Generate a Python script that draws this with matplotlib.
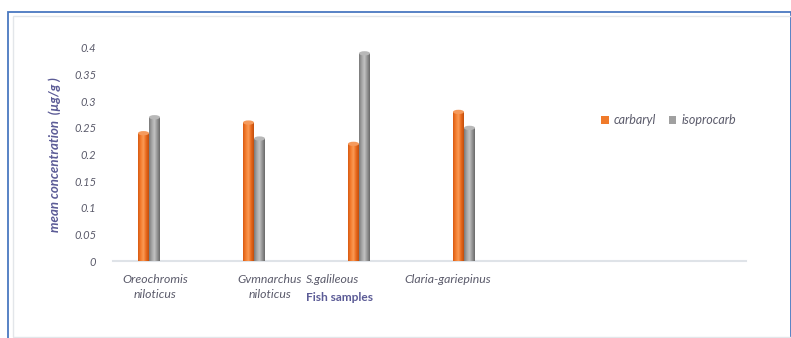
import numpy as np
import matplotlib.pyplot as plt
from matplotlib.patches import Rectangle, Ellipse
from matplotlib.colors import LinearSegmentedColormap

plt.rcParams['font.family'] = ['Lato', 'DejaVu Sans']

# mean concentrations per fish species (µg/g)
species = ['Oreochromis\nniloticus', 'Gvmnarchus\nniloticus', 'S.galileous', 'Claria-gariepinus']
carbaryl = [0.24, 0.26, 0.22, 0.28]
isoprocarb = [0.27, 0.23, 0.39, 0.25]
yticks = [0, 0.05, 0.1, 0.15, 0.2, 0.25, 0.3, 0.35, 0.4]
ytick_labels = ['0', '0.05', '0.1', '0.15', '0.2', '0.25', '0.3', '0.35', '0.4']

txt = '#5b5b6b'
purple = '#5b5b96'

fig = plt.figure(figsize=(7.91, 3.38), dpi=100)

# outer frame: blue top/left edge, light inner border
fig.add_artist(Rectangle((8/791, -0.01), 0.99, (338-12)/338 + 0.01, transform=fig.transFigure,
                         fill=False, ec='#4a78c0', lw=1.3))
fig.add_artist(Rectangle((13/791, 1/338), 0.99, (338-17)/338, transform=fig.transFigure,
                         fill=False, ec='#e3e6ea', lw=1.0))

ax = fig.add_axes([113/791, (338-261)/338, (746-113)/791, (261-48)/338])

x = np.arange(len(species))
w = 11/105

orange_cm = LinearSegmentedColormap.from_list('o', ['#d85a12', '#f47d2e', '#fa9a55', '#e8681c', '#c24f0c'])
gray_cm = LinearSegmentedColormap.from_list('g', ['#7a7a7a', '#a5a5a5', '#c3c3c3', '#959595', '#6a6a6a'])

b1 = ax.bar(x - w/2, carbaryl, w, color='#f07a2a', label='carbaryl', zorder=2)
b2 = ax.bar(x + w/2, isoprocarb, w, color='#a0a0a0', label='isoprocarb', zorder=2)

# shade each bar like a cylinder, with an elliptical cap on top
grad = np.linspace(0, 1, 64).reshape(1, -1)
for bars, cm, cap in ((b1, orange_cm, '#f59a5c'), (b2, gray_cm, '#b8b8b8')):
    for r in bars:
        x0, h, bw = r.get_x(), r.get_height(), r.get_width()
        im = ax.imshow(grad, cmap=cm, aspect='auto', extent=(x0, x0 + bw, 0, h), zorder=3)
        im.set_clip_path(r)
        ax.add_patch(Ellipse((x0 + bw/2, h), bw, 0.008, fc=cap, ec='none', zorder=4))

ax.set_xlim(-36/105, 597/105)
ax.set_ylim(0, 0.4)
ax.set_yticks(yticks)
ax.set_yticklabels(ytick_labels, fontsize=8, style='italic', color=txt)
ax.set_xticks([])
ax.tick_params(axis='y', length=0, pad=12)
for s in ['top', 'right', 'left']:
    ax.spines[s].set_visible(False)
ax.spines['bottom'].set_color('#dfe3e8')
ax.spines['bottom'].set_linewidth(1.5)

# category labels under the axis
label_x = [155, 270, 333, 448]
for lx, name in zip(label_x, species):
    ax.text((lx - 149)/105, -0.025, name, ha='center', va='top', fontsize=8.8,
            style='italic', color=txt, linespacing=1.45)

ax.text((340 - 149)/105, -0.058, 'Fish samples', ha='center', va='top', fontsize=8.6,
        fontweight='bold', color=purple)

fig.text(55/791, (338-155)/338, 'mean concentration  (µg/g )', rotation=90, ha='center',
         va='center', fontsize=9.5, style='italic', fontweight='bold', color=purple)

leg = ax.legend(loc='center left', bbox_to_anchor=((590-113)/(746-113), (261-120)/(261-48)),
                ncol=2, frameon=False, fontsize=9, handlelength=0.6, handleheight=0.6,
                handletextpad=0.4, columnspacing=1.0)
for t in leg.get_texts():
    t.set_style('italic')
    t.set_color(txt)

fig.savefig('out.png', dpi=100)
